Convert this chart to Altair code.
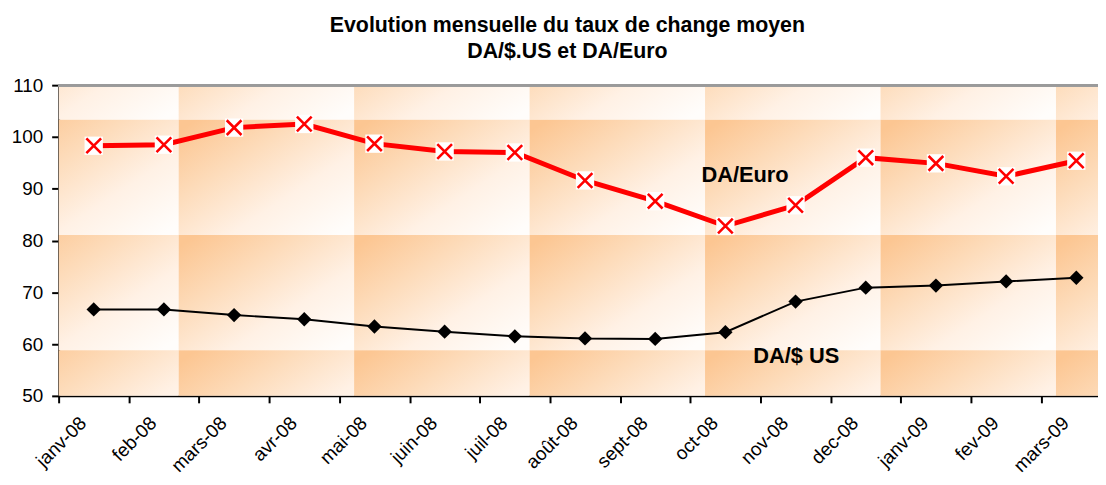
import altair as alt
import pandas as pd

months = ["janv-08", "feb-08", "mars-08", "avr-08", "mai-08", "juin-08", "juil-08",
          "août-08", "sept-08", "oct-08", "nov-08", "dec-08", "janv-09", "fev-09", "mars-09"]
da_euro = [98.3, 98.5, 101.8, 102.5, 98.7, 97.2, 97.0, 91.6, 87.6, 82.8, 86.8, 96.0, 94.9, 92.4, 95.4]
da_usd = [66.7, 66.7, 65.6, 64.8, 63.4, 62.4, 61.5, 61.1, 61.0, 62.3, 68.2, 70.9, 71.3, 72.1, 72.8]

# decorative tiled background (category units / value units)
tile_cols = [-0.79, 1.71, 4.21, 6.71, 9.21, 11.71, 14.21]
tile_w = 2.5
tile_rows = [125.55, 103.3, 81.05, 58.8]
tile_h = 22.25

label_text = ["DA/Euro", "DA/$ US"]
label_x = [9.78, 10.51]
label_y = [92.7, 57.7]

FONT = "Liberation Sans"
W, H = 1047, 313
RANGE_X = [0, 1060.5]

df = pd.DataFrame({"month": months, "euro": da_euro, "usd": da_usd})
tiles = pd.DataFrame([{"x0": c, "x1": c + tile_w, "y0": r, "y1": r - tile_h}
                      for c in tile_cols for r in tile_rows])
labels = pd.DataFrame({"t": label_text, "x": label_x, "y": label_y})

yscale = alt.Scale(domain=[50, 110], nice=False, zero=False)
yaxis = alt.Axis(values=list(range(50, 111, 10)), grid=False, domainColor="black",
                 domainWidth=2, tickColor="black", tickWidth=2, tickSize=7,
                 labelFontSize=19, labelFont=FONT, labelColor="black", labelPadding=9,
                 title=None)

grad = alt.LinearGradient(
    gradient="linear",
    stops=[alt.GradientStop(color="#fcc692", offset=0),
           alt.GradientStop(color="#fddcbb", offset=0.33),
           alt.GradientStop(color="#fff1e5", offset=0.66),
           alt.GradientStop(color="#fffdfb", offset=1)],
    x1=0.05, y1=0.05, x2=0.95, y2=0.95)

qx = alt.Scale(domain=[0, 15], range=RANGE_X, nice=False, zero=False)

bg = alt.Chart(tiles).mark_rect(color=grad, clip=True).encode(
    x=alt.X("x0:Q", scale=qx, axis=None),
    x2="x1:Q",
    y=alt.Y("y0:Q", scale=yscale, axis=yaxis),
    y2="y1:Q",
)

top_rule = alt.Chart(tiles).mark_rule(color="#9a9a9a", strokeWidth=2).encode(
    y=alt.datum(110)
)

xscale = alt.Scale(type="band", domain=months, range=RANGE_X, paddingInner=0, paddingOuter=0)
xaxis = alt.Axis(title=None, tickBand="extent", labelAngle=-45, labelAlign="right",
                 labelBaseline="middle", labelFontSize=19, labelFont=FONT,
                 labelColor="black", domainColor="black", domainWidth=2,
                 tickColor="black", tickWidth=2, tickSize=7, labelPadding=17,
                 labelOffset=-11, labelOverlap=False, labelBound=False)


def xenc(show_axis):
    return alt.X("month:N", scale=xscale, axis=xaxis if show_axis else None, sort=months)


base = alt.Chart(df)

usd_line = base.mark_line(color="black", strokeWidth=2).encode(
    x=xenc(True), y=alt.Y("usd:Q", scale=yscale))
usd_pt = base.mark_point(shape="diamond", filled=True, color="black", opacity=1,
                         size=210).encode(x=xenc(False), y=alt.Y("usd:Q", scale=yscale))
euro_line = base.mark_line(color="#ff0000", strokeWidth=5).encode(
    x=xenc(False), y=alt.Y("euro:Q", scale=yscale))
euro_bg = base.mark_point(shape="square", filled=True, color="white", opacity=1,
                          size=340).encode(x=xenc(False), y=alt.Y("euro:Q", scale=yscale))
euro_x = base.mark_point(shape="M-1,-1L1,1M-1,1L1,-1", filled=False, color="#ff0000",
                         strokeWidth=2.6, opacity=1, size=220).encode(
    x=xenc(False), y=alt.Y("euro:Q", scale=yscale))

txt = alt.Chart(labels).mark_text(fontSize=22, fontWeight="bold", font=FONT,
                                  color="black").encode(
    x=alt.X("x:Q", scale=qx, axis=None),
    y=alt.Y("y:Q", scale=yscale),
    text="t:N",
)

chart = alt.layer(bg, top_rule, usd_line, usd_pt, euro_line, euro_bg, euro_x, txt).resolve_scale(
    x="independent"
).properties(
    width=W, height=H,
    autosize=alt.AutoSizeParams(type="none"),
    padding={"left": 51, "top": 76, "right": 0, "bottom": 80},
    title=alt.TitleParams(
        text=["Evolution mensuelle du taux de change moyen", "DA/$.US et DA/Euro"],
        fontSize=21.5, font=FONT, fontWeight="bold", color="black",
        anchor="middle", lineHeight=26, offset=14, dx=-11),
).configure_view(stroke=None).configure(background="white")

chart.save("out.html", embed_options={"renderer": "svg", "actions": False})
